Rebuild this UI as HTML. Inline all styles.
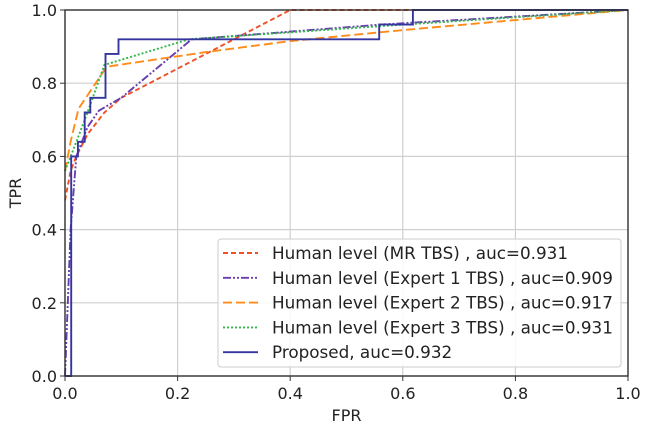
<!DOCTYPE html>
<html><head><meta charset="utf-8"><style>
html,body{margin:0;padding:0;background:#fff;}
svg{display:block;font-family:"DejaVu Sans","Liberation Sans",sans-serif;}
</style></head><body>
<svg id="chart" width="645" height="428"></svg>
<script>
const xTicks=[0,0.2,0.4,0.6,0.8,1.0];
const yTicks=[0,0.2,0.4,0.6,0.8,1.0];
const seriesNames=["Human level (MR TBS) , auc=0.931","Human level (Expert 1 TBS) , auc=0.909","Human level (Expert 2 TBS) , auc=0.917","Human level (Expert 3 TBS) , auc=0.931","Proposed, auc=0.932"];
const mrFpr=[0,0.01,0.02,0.04,0.07,0.1,0.2,0.4,1];
const mrTpr=[0.48,0.56,0.6,0.66,0.72,0.76,0.84,1,1];
const e1Fpr=[0,0.01,0.02,0.04,0.06,0.1,0.225,0.56,1];
const e1Tpr=[0,0.4,0.6,0.68,0.725,0.76,0.92,0.96,1];
const e2Fpr=[0,0.01,0.024,0.074,0.25,0.4,0.6,1];
const e2Tpr=[0.56,0.64,0.73,0.845,0.885,0.915,0.945,1];
const e3Fpr=[0,0.02,0.04,0.07,0.22,0.6,1];
const e3Tpr=[0.56,0.64,0.72,0.85,0.92,0.96,1];
const prFpr=[0,0.011,0.011,0.023,0.023,0.035,0.035,0.045,0.045,0.072,0.072,0.095,0.095,0.558,0.558,0.618,0.618,1];
const prTpr=[0,0,0.6,0.6,0.64,0.64,0.72,0.72,0.76,0.76,0.88,0.88,0.92,0.92,0.96,0.96,1,1];

const X0=65,X1=628,Y0=376,Y1=10;
const sx=v=>X0+v*(X1-X0), sy=v=>Y0-v*(Y0-Y1);
const svg=document.getElementById('chart');
const NS='http://www.w3.org/2000/svg';
function mk(tag,attrs,parent){const e=document.createElementNS(NS,tag);for(const k in attrs)e.setAttribute(k,attrs[k]);(parent||svg).appendChild(e);return e;}

const grid=mk('g',{});


xTicks.forEach(t=>{const l=mk('line',{x1:sx(t),x2:sx(t),y1:Y0,y2:Y1,stroke:'#cfcfcf','stroke-width':1.2},grid);

});
yTicks.forEach(t=>{const l=mk('line',{x1:X0,x2:X1,y1:sy(t),y2:sy(t),stroke:'#cfcfcf','stroke-width':1.2},grid);

});

const styles=[
 {c:'#f05028',d:'5,3',x:mrFpr,y:mrTpr,n:'mr-tbs-curve'},
 {c:'#6a3db0',d:'8,2,2,2,2,2',x:e1Fpr,y:e1Tpr,n:'expert1-curve'},
 {c:'#ff8c1a',d:'9,4',x:e2Fpr,y:e2Tpr,n:'expert2-curve'},
 {c:'#33b84a',d:'2,2',x:e3Fpr,y:e3Tpr,n:'expert3-curve'},
 {c:'#3535a0',d:'',x:prFpr,y:prTpr,n:'proposed-curve'}];
const clip=mk('clipPath',{id:'cp'});mk('rect',{x:X0-1,y:Y1-1,width:X1-X0+2,height:Y0-Y1+2},clip);
styles.forEach(s=>{const pts=s.x.map((v,i)=>sx(v).toFixed(1)+','+sy(s.y[i]).toFixed(1)).join(' ');
const p=mk('polyline',{points:pts,fill:'none',stroke:s.c,'stroke-width':1.9,'stroke-dasharray':s.d,'clip-path':'url(#cp)'});

});

const ax=mk('rect',{x:X0,y:Y1,width:X1-X0,height:Y0-Y1,fill:'none',stroke:'#333','stroke-width':1.4});


xTicks.forEach(t=>{mk('line',{x1:sx(t),x2:sx(t),y1:Y0,y2:Y0+5,stroke:'#333'});
const tx=mk('text',{x:sx(t),y:Y0+23,'text-anchor':'middle','font-size':16,fill:'#222'});tx.textContent=t.toFixed(1);

});
yTicks.forEach(t=>{mk('line',{x1:X0-5,x2:X0,y1:sy(t),y2:sy(t),stroke:'#333'});
const tx=mk('text',{x:X0-8,y:sy(t)+6,'text-anchor':'end','font-size':16,fill:'#222'});tx.textContent=t.toFixed(1);

});
const xl=mk('text',{x:(X0+X1)/2,y:421,'text-anchor':'middle','font-size':16,fill:'#222'});xl.textContent='FPR';


const yl=mk('text',{x:0,y:0,'text-anchor':'middle','font-size':16,fill:'#222',transform:'translate(21,'+((Y0+Y1)/2)+') rotate(-90)'});yl.textContent='TPR';



const lg=mk('g',{});


mk('rect',{x:218,y:239,width:403,height:128,rx:3,fill:'#fff','fill-opacity':0.85,stroke:'#ccc'},lg);
styles.forEach((s,i)=>{const y=253+i*24.8;
mk('line',{x1:223,x2:258,y1:y,y2:y,stroke:s.c,'stroke-width':1.9,'stroke-dasharray':s.d},lg);
const t=mk('text',{x:272,y:y+6,'font-size':16.8,fill:'#222'},lg);t.textContent=seriesNames[i];

});
</script>
</body></html>
